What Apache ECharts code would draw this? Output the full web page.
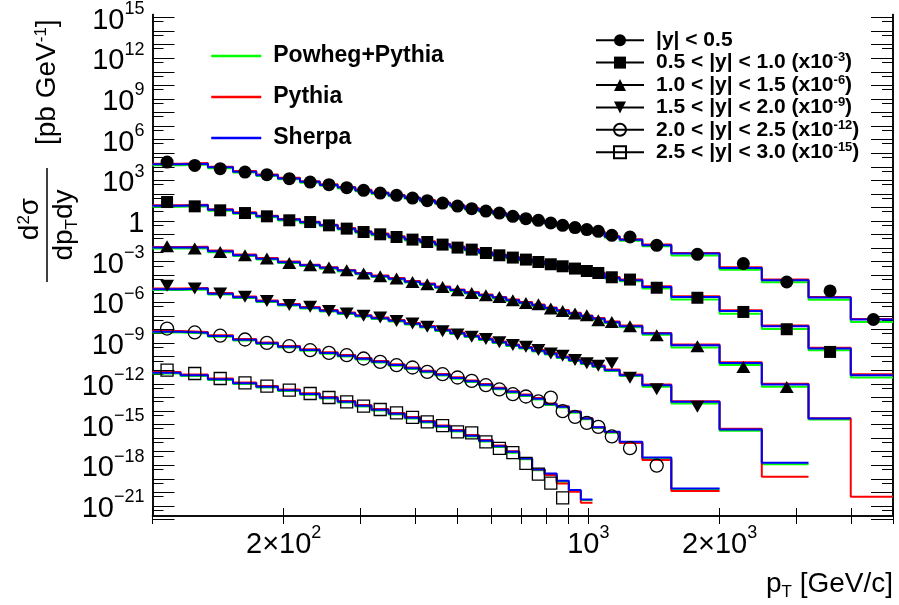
<!DOCTYPE html>
<html>
<head>
<meta charset="utf-8">
<script src="https://cdn.jsdelivr.net/npm/echarts@6/dist/echarts.min.js"></script>
<style>
  html, body { margin: 0; padding: 0; background: #fff; }
  #main { width: 899px; height: 605px; }
</style>
</head>
<body>
<div id="main"></div>
<script>
// Jet pT bin edges [GeV/c] and marker positions
const binEdges = [100, 116, 134, 153, 173, 194, 218, 242, 266, 292, 318, 348, 379, 411, 445, 482, 520, 561, 603, 648,
  694, 743, 794, 846, 902, 961, 1022, 1090, 1180, 1330, 1550, 2000, 2500, 3200, 4000, 5000];
const markerPt = [108, 125, 143, 163, 183, 206, 230, 254, 279, 305, 333, 363, 395, 427, 463, 501, 540, 582, 625, 671,
  719, 768, 820, 873, 932, 992, 1054, 1132, 1246, 1435, 1779, 2268, 2852, 3586, 4508];

// Rapidity bins, with the factor each one is multiplied by for display
const rapidityNames = ['|y| < 0.5', '0.5 < |y| < 1.0', '1.0 < |y| < 1.5', '1.5 < |y| < 2.0', '2.0 < |y| < 2.5', '2.5 < |y| < 3.0'];
const scaleExponents = [0, -3, -6, -9, -12, -15];
const scaleFactors = [1, 1e-3, 1e-6, 1e-9, 1e-12, 1e-15];

// Measured d2sigma/dpT dy [pb/GeV]
const xsecY0 = [2.21e4, 1.26e4, 7.23e3, 4.06e3, 2.61e3, 1.32e3, 745, 480, 288, 182, 115, 78.0, 49.4, 31.8, 21.1, 12.7, 8.18, 5.45, 3.88, 2.22,
  1.50, 1.13, 0.713, 0.482, 0.327, 0.233, 0.175, 0.0885, 0.0664, 0.0163, 3.53e-3, 7.3e-4, 3.22e-5, 7.0e-6, 5.5e-8];
const xsecY1 = [2.51e4, 1.21e4, 6.14e3, 3.88e3, 2.22e3, 1.13e3, 843, 482, 275, 155, 105, 66.4, 42.7, 28.4, 18.3, 11.0, 7.83, 4.41, 2.98, 2.02,
  1.44, 0.957, 0.649, 0.461, 0.313, 0.208, 0.148, 0.0714, 0.0484, 0.0121, 2.21e-3, 1.99e-4, 1.06e-5, 2.25e-7];
const xsecY2 = [1.37e4, 9.29e3, 5.21e3, 2.98e3, 1.70e3, 807, 547, 370, 234, 134, 84.7, 57.3, 32.2, 21.8, 13.8, 7.89, 4.99, 3.38, 2.54, 1.45,
  0.916, 0.735, 0.354, 0.236, 0.152, 0.114, 0.0488, 0.0366, 0.0176, 3.83e-3, 5.93e-4, 1.77e-5, 5.97e-7];
const xsecY3 = [1.70e4, 1.08e4, 4.62e3, 2.64e3, 1.27e3, 646, 483, 233, 155, 105, 78.8, 42.7, 28.5, 16.3, 7.6, 4.41, 2.99, 2.02, 1.14, 0.732,
  0.548, 0.314, 0.176, 0.119, 0.0574, 0.0323, 0.0219, 0.0323, 2.85e-3, 3.93e-4, 2.09e-5];
const xsecY4 = [1.19e4, 6.15e3, 3.52e3, 1.85e3, 1.04e3, 593, 301, 191, 129, 73.6, 41.4, 23.7, 16.0, 7.60, 5.14, 2.94, 1.65, 0.796, 0.385, 0.173,
  0.117, 0.0512, 0.0957, 9.7e-3, 3.69e-3, 1.33e-3, 6.78e-4, 1.33e-4, 1.83e-5, 9.4e-7];
const xsecY5 = [1.01e4, 5.79e3, 2.48e3, 1.18e3, 673, 341, 195, 98.9, 46.9, 22.6, 12.9, 7.28, 3.33, 1.58, 0.83, 0.290, 0.245, 0.0532, 0.0174, 8.53e-3,
  1.36e-3, 2.23e-4, 4.84e-5, 3.94e-6];

// Powheg+Pythia predictions per pT bin
const powhegY0 = [1.31e4, 1.47e4, 7.8e3, 3.75e3, 2.1e3, 1.21e3, 670, 400, 252, 157, 100, 65.7, 43.0, 27.7, 18.1, 11.5, 7.1, 4.74, 3.21, 2.0,
  1.31, 0.905, 0.62, 0.42, 0.284, 0.196, 0.132, 0.058, 0.035, 0.0139, 2.9e-3, 2.6e-4, 3.1e-5, 1.6e-6, 3.6e-8];
const powhegY1 = [1.15e4, 1.24e4, 5.8e3, 3.38e3, 1.93e3, 1.10e3, 700, 420, 239, 139, 91, 57.8, 37.1, 24.7, 15.9, 10.1, 6.6, 3.96, 2.59, 1.76,
  1.21, 0.83, 0.565, 0.388, 0.272, 0.181, 0.123, 0.057, 0.037, 0.0105, 1.63e-3, 1.49e-4, 1.11e-5, 3.0e-7, 2.95e-9];
const powhegY2 = [9.6e3, 9.9e3, 5.1e3, 2.6e3, 1.44e3, 790, 480, 310, 194, 117, 73.7, 48.3, 29.0, 19.0, 11.4, 7.1, 4.49, 2.94, 1.99, 1.26,
  0.823, 0.539, 0.335, 0.212, 0.135, 0.0864, 0.0546, 0.0303, 0.0150, 4.1e-3, 4.8e-4, 2.4e-5, 6.1e-7, 2.36e-9];
const powhegY3 = [8.1e3, 9.1e3, 3.8e3, 2.09e3, 1.06e3, 590, 353, 212, 139, 90.5, 59.5, 39.0, 23.4, 14.1, 7.8, 4.67, 2.82, 1.70, 1.02, 0.612,
  0.400, 0.241, 0.144, 0.0799, 0.048, 0.0289, 0.0174, 8.8e-3, 3.8e-3, 6.0e-4, 3.5e-5, 3.5e-7, 1.2e-9];
const powhegY4 = [6.0e3, 5.1e3, 2.9e3, 1.56e3, 860, 474, 271, 163, 104, 62, 37.3, 21.7, 12.4, 7.07, 4.12, 2.35, 1.37, 0.754, 0.403, 0.223,
  0.127, 0.0702, 0.0277, 0.0181, 7.5e-3, 2.45e-3, 5.6e-4, 2.5e-4, 4.6e-5, 3.3e-6, 1.8e-8];
const powhegY5 = [5.8e3, 3.78e3, 1.91e3, 970, 540, 297, 156, 83.3, 42.2, 21.5, 10.9, 5.5, 2.8, 1.43, 0.663, 0.31, 0.132, 0.0567, 0.0223, 8.5e-3,
  2.75e-3, 4.2e-4, 2.2e-4, 6.0e-5, 1.3e-5, 2.7e-6];

// Pythia predictions per pT bin
const pythiaY0 = [1.68e4, 1.89e4, 1.0e4, 4.8e3, 2.7e3, 1.56e3, 860, 515, 325, 200, 129, 84.5, 55.3, 35.6, 23.3, 14.8, 9.2, 6.1, 4.13, 2.58,
  1.68, 1.16, 0.80, 0.54, 0.366, 0.252, 0.170, 0.077, 0.046, 0.0183, 4.4e-3, 3.9e-4, 4.8e-5, 2.56e-6, 6.1e-8];
const pythiaY1 = [1.48e4, 1.6e4, 7.5e3, 4.35e3, 2.49e3, 1.42e3, 900, 540, 308, 179, 118, 74.4, 47.8, 31.8, 20.5, 13.0, 8.5, 5.1, 3.34, 2.26,
  1.56, 1.07, 0.727, 0.50, 0.351, 0.233, 0.158, 0.0735, 0.0482, 0.0155, 2.85e-3, 2.64e-4, 1.97e-5, 4.5e-7, 5.1e-9];
const pythiaY2 = [1.23e4, 1.28e4, 6.6e3, 3.34e3, 1.85e3, 1.02e3, 610, 400, 250, 150, 94.9, 62.2, 37.3, 24.4, 14.7, 9.15, 5.78, 3.79, 2.56, 1.62,
  1.06, 0.693, 0.431, 0.273, 0.174, 0.111, 0.0703, 0.039, 0.0197, 5.7e-3, 7.9e-4, 3.9e-5, 1.0e-6, 2.9e-9, 4.7e-15];
const pythiaY3 = [1.05e4, 1.18e4, 4.9e3, 2.69e3, 1.37e3, 760, 455, 273, 179, 116, 76.6, 50.2, 30.1, 18.1, 10.0, 6.0, 3.63, 2.18, 1.31, 0.787,
  0.515, 0.310, 0.186, 0.103, 0.0618, 0.0372, 0.0224, 0.0113, 4.9e-3, 8.9e-4, 5.3e-5, 4.9e-7, 1.41e-10];
const pythiaY4 = [7.76e3, 6.55e3, 3.74e3, 2.0e3, 1.10e3, 610, 348, 209, 133, 79.9, 48.0, 27.9, 15.9, 9.1, 5.3, 3.02, 1.76, 0.97, 0.519, 0.287,
  0.164, 0.090, 0.0356, 0.0225, 9.0e-3, 2.9e-3, 6.4e-4, 2.8e-4, 4.4e-5, 2.4e-6, 1.24e-8];
const pythiaY5 = [7.4e3, 4.87e3, 2.46e3, 1.25e3, 690, 380, 200, 107, 54.3, 27.7, 14.0, 7.1, 3.6, 1.84, 0.853, 0.399, 0.170, 0.073, 0.0287, 0.0109,
  3.3e-3, 4.9e-4, 1.9e-4, 4.6e-5, 1.1e-5, 1.7e-6];

// Sherpa predictions per pT bin
const sherpaY0 = [1.50e4, 1.69e4, 9.0e3, 4.3e3, 2.4e3, 1.39e3, 770, 460, 290, 180, 115, 75.5, 49.4, 31.8, 20.8, 13.2, 8.2, 5.45, 3.69, 2.30,
  1.50, 1.04, 0.713, 0.482, 0.327, 0.225, 0.152, 0.0687, 0.0413, 0.0163, 3.97e-3, 3.46e-4, 4.30e-5, 2.29e-6, 5.48e-8];
const sherpaY1 = [1.32e4, 1.43e4, 6.68e3, 3.88e3, 2.22e3, 1.27e3, 802, 482, 275, 160, 105, 66.4, 42.7, 28.4, 18.3, 11.6, 7.57, 4.55, 2.98, 2.02,
  1.39, 0.957, 0.649, 0.446, 0.313, 0.208, 0.141, 0.0656, 0.0430, 0.0138, 2.54e-3, 2.36e-4, 1.76e-5, 4.02e-7, 4.35e-9];
const sherpaY2 = [1.10e4, 1.14e4, 5.9e3, 2.98e3, 1.65e3, 910, 547, 358, 223, 134, 84.7, 55.5, 33.3, 21.8, 13.1, 8.17, 5.16, 3.38, 2.29, 1.45,
  0.946, 0.619, 0.385, 0.244, 0.155, 0.0993, 0.0628, 0.0348, 0.0176, 5.11e-3, 7.03e-4, 3.50e-5, 8.97e-7, 2.81e-9];
const sherpaY3 = [9.35e3, 1.05e4, 4.36e3, 2.40e3, 1.22e3, 675, 406, 244, 160, 104, 68.4, 44.8, 26.9, 16.2, 8.93, 5.37, 3.24, 1.95, 1.17, 0.703,
  0.460, 0.277, 0.166, 0.0918, 0.0552, 0.0332, 0.0200, 0.0101, 4.35e-3, 7.96e-4, 4.70e-5, 4.36e-7, 1.51e-9];
const sherpaY4 = [6.93e3, 5.85e3, 3.34e3, 1.79e3, 986, 545, 311, 187, 119, 71.3, 42.9, 24.9, 14.2, 8.13, 4.73, 2.70, 1.57, 0.867, 0.463, 0.256,
  0.146, 0.0807, 0.0318, 0.0208, 8.61e-3, 2.81e-3, 6.44e-4, 2.90e-4, 5.32e-5, 3.78e-6, 1.97e-8];
const sherpaY5 = [6.64e3, 4.35e3, 2.20e3, 1.12e3, 618, 341, 179, 95.7, 48.5, 24.7, 12.5, 6.35, 3.22, 1.64, 0.762, 0.356, 0.152, 0.0652, 0.0256, 9.75e-3,
  3.19e-3, 4.94e-4, 2.51e-4, 7.14e-5, 1.48e-5, 3.05e-6];

// Axis ticks and labels
const xLabelValues = [200, 1000, 2000];
const xTickValues = [100, 200, 300, 400, 500, 600, 700, 800, 900, 1000, 2000, 3000, 4000, 5000];
const yLabelValues = [1e-21, 1e-18, 1e-15, 1e-12, 1e-9, 1e-6, 1e-3, 1, 1e3, 1e6, 1e9, 1e12, 1e15];

const measured = [xsecY0, xsecY1, xsecY2, xsecY3, xsecY4, xsecY5];
const powheg = [powhegY0, powhegY1, powhegY2, powhegY3, powhegY4, powhegY5];
const pythia = [pythiaY0, pythiaY1, pythiaY2, pythiaY3, pythiaY4, pythiaY5];
const sherpa = [sherpaY0, sherpaY1, sherpaY2, sherpaY3, sherpaY4, sherpaY5];

const FONT = '"Liberation Sans", Arial, Helvetica, sans-serif';

const yMajorTicks = [];
const yMinorTicks = [];
for (let e = -22; e <= 15; e++) {
  yMajorTicks.push(Number('1e' + e));
  yMinorTicks.push(Number('5e' + e));
}

const markerStyles = [
  { symbol: 'circle', size: 13, fill: '#000' },
  { symbol: 'rect', size: 12, fill: '#000' },
  { symbol: 'triangle', size: [14, 12], fill: '#000' },
  { symbol: 'triangle', size: [14, 12], fill: '#000', rotate: 180 },
  { symbol: 'circle', size: 13, fill: 'rgba(255,255,255,0)' },
  { symbol: 'rect', size: 12, fill: 'rgba(255,255,255,0)' }
];

// histogram outline: one point per lower edge plus the closing upper edge
function histPoints(values, factor) {
  const pts = values.map((v, i) => [binEdges[i], v * factor]);
  pts.push([binEdges[values.length], values[values.length - 1] * factor]);
  return pts;
}

const series = [];
const models = [
  { name: 'Powheg+Pythia', color: '#00ff00', sets: powheg, z: 2 },
  { name: 'Pythia', color: '#ff0000', sets: pythia, z: 3 },
  { name: 'Sherpa', color: '#0000ff', sets: sherpa, z: 4 }
];
models.forEach(m => {
  m.sets.forEach((vals, k) => {
    series.push({
      type: 'line', name: m.name, step: 'end', z: m.z,
      data: histPoints(vals, scaleFactors[k]),
      symbol: 'none', silent: true, animation: false,
      lineStyle: { color: m.color, width: 2 },
      itemStyle: { color: m.color },
      emphasis: { disabled: true }
    });
  });
});
measured.forEach((vals, k) => {
  const ms = markerStyles[k];
  series.push({
    type: 'line', name: rapidityNames[k], z: 10,
    data: vals.map((v, i) => [markerPt[i], v * scaleFactors[k]]),
    symbol: ms.symbol, symbolSize: ms.size, symbolRotate: ms.rotate || 0,
    showSymbol: true, showAllSymbol: true, silent: true, animation: false,
    lineStyle: { width: 0, opacity: 0 },
    itemStyle: { color: ms.fill, borderColor: '#000', borderWidth: ms.fill === '#000' ? 0 : 1.3, opacity: 1 },
    emphasis: { disabled: true }
  });
});

function expLabel(v) {
  const e = Math.round(Math.log10(v));
  if (e === 0) return '{b|1}';
  return '{b|10}{s|' + (e < 0 ? '\u2212' + (-e) : e) + '}';
}

const axisRich = {
  b: { fontSize: 29, fontFamily: FONT, color: '#000', lineHeight: 35, verticalAlign: 'bottom' },
  s: { fontSize: 18, fontFamily: FONT, color: '#000', verticalAlign: 'top', lineHeight: 18 }
};

function yAxisDef(position, ticks, len, showLabel) {
  return {
    type: 'log', logBase: 10, position: position, min: 1.82e-22, max: 1.66e15,
    axisLine: { show: true, lineStyle: { color: '#000', width: 1.5 } },
    axisTick: { show: true, inside: true, length: len, customValues: ticks, lineStyle: { color: '#000', width: 1 } },
    axisLabel: showLabel ? {
      show: true, customValues: yLabelValues, margin: 8, formatter: expLabel, rich: axisRich
    } : { show: false },
    splitLine: { show: false }, minorTick: { show: false }
  };
}

function xAxisDef(position, showLabel) {
  return {
    type: 'log', logBase: 10, position: position, min: 100, max: 5000,
    axisLine: { show: true, lineStyle: { color: '#000', width: 1.5 } },
    axisTick: { show: true, inside: true, length: 8, customValues: xTickValues, lineStyle: { color: '#000', width: 1 } },
    axisLabel: showLabel ? {
      show: true, customValues: xLabelValues, margin: 8, rich: axisRich,
      formatter: v => {
        const e = Math.floor(Math.log10(v) + 1e-9);
        const m = Math.round(v / Math.pow(10, e));
        return '{b|' + (m === 1 ? '' : m + '\u00d7') + '10}{s|' + e + '}';
      }
    } : { show: false },
    splitLine: { show: false }
  };
}

const option = {
  backgroundColor: '#fff',
  animation: false,
  grid: { left: 152.5, right: 6, top: 14, bottom: 89, containLabel: false },
  xAxis: [xAxisDef('bottom', true), xAxisDef('top', false)],
  yAxis: [
    yAxisDef('left', yMajorTicks, 22, true),
    yAxisDef('right', yMajorTicks, 22, false),
    yAxisDef('left', yMinorTicks, 11, false),
    yAxisDef('right', yMinorTicks, 11, false)
  ],
  legend: [
    {
      data: ['Powheg+Pythia', 'Pythia', 'Sherpa'],
      orient: 'vertical', left: 210, top: 44, padding: 0, itemWidth: 50, itemHeight: 24, itemGap: 17,
      selectedMode: false,
      itemStyle: { opacity: 0 },
      lineStyle: { width: 2.5 },
      textStyle: { fontFamily: FONT, fontWeight: 'bold', fontSize: 23, color: '#000', lineHeight: 24, padding: [0, 0, 0, 7] }
    },
    {
      data: rapidityNames,
      orient: 'vertical', left: 595, top: 29, padding: 0, itemWidth: 48, itemHeight: 15, itemGap: 0,
      selectedMode: false,
      lineStyle: { color: '#000', width: 2, opacity: 1 },
      formatter: name => {
        const k = rapidityNames.indexOf(name);
        return k === 0 ? name : name + ' (x10{sup|' + scaleExponents[k] + '})';
      },
      textStyle: {
        fontFamily: FONT, fontWeight: 'bold', fontSize: 21, color: '#000', lineHeight: 22.4, padding: [0, 0, 0, 7],
        rich: { sup: { fontFamily: FONT, fontWeight: 'bold', fontSize: 13, verticalAlign: 'top', lineHeight: 12 } }
      }
    }
  ],
  graphic: [
    {
      type: 'group', x: 47, y: 225, rotation: Math.PI / 2, silent: true,
      children: [
        { type: 'text', x: 6, y: -3, style: { text: 'd{s|2}\u03c3', align: 'center', verticalAlign: 'bottom', fontSize: 28, fontFamily: FONT, fill: '#000',
          rich: { s: { fontSize: 17, fontFamily: FONT, verticalAlign: 'top' } } } },
        { type: 'line', shape: { x1: -57, y1: 0, x2: 57, y2: 0 }, style: { stroke: '#000', lineWidth: 1.5 } },
        { type: 'text', x: 0, y: 3, style: { text: 'dp{t|T}dy', align: 'center', verticalAlign: 'top', fontSize: 28, fontFamily: FONT, fill: '#000',
          rich: { t: { fontSize: 17, fontFamily: FONT, verticalAlign: 'top', lineHeight: 17, padding: [14, 0, 0, 0] } } } },
        { type: 'text', x: 80, y: 0, style: { text: '[pb GeV{s|-1}]', align: 'left', verticalAlign: 'middle', fontSize: 28, fontFamily: FONT, fill: '#000',
          rich: { s: { fontSize: 17, fontFamily: FONT, verticalAlign: 'top' } } } }
      ]
    },
    {
      type: 'text', x: 893, y: 584, silent: true,
      style: { text: 'p{t|T} [GeV/c]', align: 'right', verticalAlign: 'middle', fontSize: 28, fontFamily: FONT, fill: '#000',
        rich: { t: { fontSize: 17, fontFamily: FONT, verticalAlign: 'top', lineHeight: 17, padding: [14, 0, 0, 0] } } }
    }
  ],
  series: series
};

const chart = echarts.init(document.getElementById('main'), null, { renderer: 'canvas' });
chart.setOption(option);
</script>
</body>
</html>
